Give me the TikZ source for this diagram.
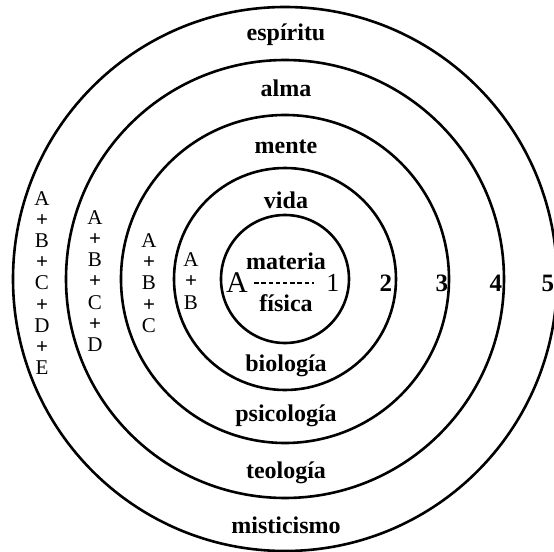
\documentclass[tikz,border=0pt]{standalone}
\usepackage{fontspec}
\setmainfont{Liberation Serif}
\usepackage{tikz}
\usetikzlibrary{calc}
\tikzset{
  ring/.style={line width=1.3pt},
  ringlabel/.style={font=\fontsize{12}{14}\selectfont\bfseries, inner sep=0pt},
  sumcol/.style={font=\fontsize{10.5}{10.6}\selectfont, align=center, inner sep=0pt},
  ringnum/.style={font=\fontsize{12.5}{14}\selectfont\bfseries, inner sep=0pt},
  dashrule/.style={line width=1.3pt, dash pattern=on 2.2pt off 1.4pt},
}
\newcommand{\pl}{\textbf{+}}

\begin{document}
\begin{tikzpicture}[x=0.5pt, y=-0.5pt]
  \useasboundingbox (0,0) rectangle (554,552);
  \coordinate (c) at (285,279);
  \foreach \r in {64,111,164,219,272} {
    \draw[ring] (c) circle [radius=\r*0.5pt];
  }

  \foreach \nm/\y/\txt in {esp/35/espíritu, alm/88/alma, men/147/mente,
      vid/200/vida, mat/261/materia, fis/303/física, bio/366/biología,
      psi/416/psicología, teo/473/teología, mis/525/misticismo} {
    \node[ringlabel] (\nm) at (286,\y) {\txt};
  }

  \node[sumcol] (sum2) at (191,281) {A\\\pl\\B};
  \node[sumcol] (sum3) at (149,283) {A\\\pl\\B\\\pl\\C};
  \node[sumcol] (sum4) at (95,281) {A\\\pl\\B\\\pl\\C\\\pl\\D};
  \node[sumcol] (sum5) at (42,283) {A\\\pl\\B\\\pl\\C\\\pl\\D\\\pl\\E};

  \node[font=\fontsize{15}{15}\selectfont, inner sep=1pt] (lvlA) at (237,283) {A};
  \node[font=\fontsize{13}{13}\selectfont, inner sep=1pt] (lvl1) at (333,283) {1};
  \draw[dashrule, shorten <=2pt, shorten >=5pt] (lvlA) -- (lvl1);

  \foreach \nm/\x/\txt in {lvl2/386/2, lvl3/442/3, lvl4/496/4, lvl5/548/5} {
    \node[ringnum] (\nm) at (\x,283) {\txt};
  }
\end{tikzpicture}
\end{document}
